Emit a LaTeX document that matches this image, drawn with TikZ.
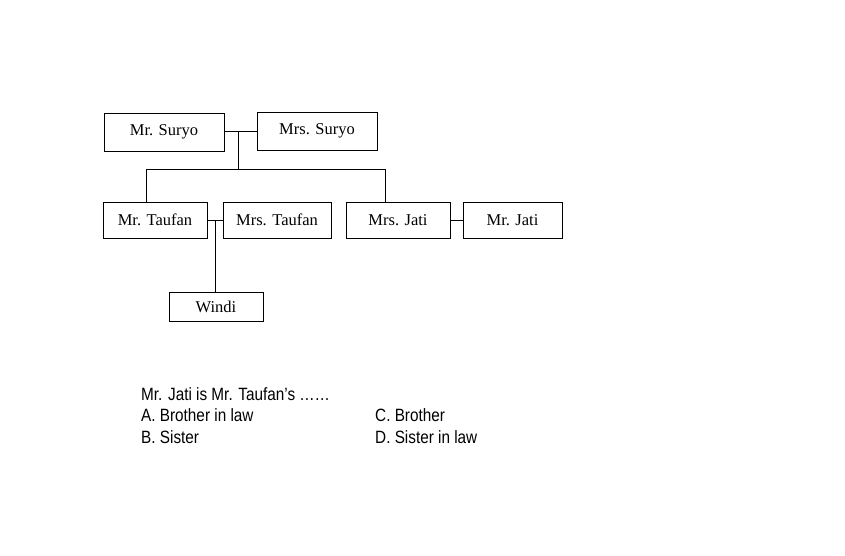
\documentclass[tikz,border=0pt]{standalone}
\usepackage{fontspec}
\setmainfont{Liberation Serif}
\newfontfamily\qfont[FakeStretch=0.86]{Liberation Sans}
\usetikzlibrary{calc}
\begin{document}
\begin{tikzpicture}[x=1pt,y=-1pt,
  person/.style={draw,line width=1pt,inner sep=0pt,font=\fontsize{16.5}{18}\selectfont},
  link/.style={line width=1pt},
  qtext/.style={anchor=base west,inner sep=0pt,font=\qfont\fontsize{17.8}{20}\selectfont}]
\useasboundingbox[fill=white] (0,0) rectangle (845,555);
% generation 1
\node[person,minimum width=120pt,minimum height=38pt] (sur) at (164,132) {Mr. Suryo};
\node[person,minimum width=120pt,minimum height=38pt] (msur) at (317,131) {Mrs. Suryo};
% generation 2
\node[person,minimum width=104pt,minimum height=36pt] (tau) at (155,220) {Mr. Taufan};
\node[person,minimum width=108pt,minimum height=36pt] (mtau) at (277,220) {Mrs. Taufan};
\node[person,minimum width=104pt,minimum height=36pt] (mjat) at (398,220) {Mrs. Jati};
\node[person,minimum width=99pt,minimum height=36pt] (jat) at (512.5,220) {Mr. Jati};
% generation 3
\node[person,minimum width=94pt,minimum height=29pt] (win) at (216,306.5) {Windi};
% connectors
\coordinate (m1) at (238,131);
\coordinate (b1) at (238,169);
\coordinate (bl) at (146,169);
\coordinate (br) at (385,169);
\draw[link] (sur.east |- m1) -- (msur.west |- m1);
\draw[link] (m1) -- (b1);
\draw[link] (bl) -- (br);
\draw[link] (bl) -- (bl |- tau.north);
\draw[link] (br) -- (br |- mjat.north);
\coordinate (m2) at (215,220);
\draw[link] (tau.east) -- (mtau.west);
\draw[link] (m2) -- (m2 |- win.north);
\draw[link] (mjat.east) -- (jat.west);
% question
\node[qtext] (q) at (141,400) {Mr. Jati is Mr. Taufan’s \ldots\ldots};
\node[qtext] (a) at (141,421.5) {A. Brother in law};
\node[qtext] (b) at (141,443) {B. Sister};
\node[qtext] (c) at (375,421.5) {C. Brother};
\node[qtext] (d) at (375,443) {D. Sister in law};
\end{tikzpicture}
\end{document}
